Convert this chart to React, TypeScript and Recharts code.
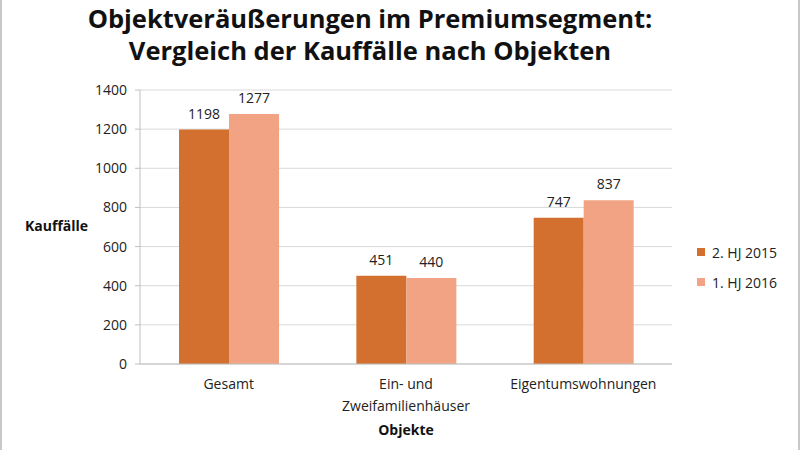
import { BarChart, Bar, XAxis, YAxis, CartesianGrid, LabelList } from 'recharts';

const categories = ['Gesamt', 'Ein- und Zweifamilienhäuser', 'Eigentumswohnungen'];
const hj2015 = [1198, 451, 747];
const hj2016 = [1277, 440, 837];
const yTicks = [0, 200, 400, 600, 800, 1000, 1200, 1400];

const data = categories.map((name, i) => ({ name, hj2015: hj2015[i], hj2016: hj2016[i] }));

const FONT = '"Open Sans", "Noto Sans", sans-serif';
const DARK = '#D4702F';
const LIGHT = '#F2A383';

const series = [
    { key: 'hj2015', label: '2. HJ 2015', color: DARK },
    { key: 'hj2016', label: '1. HJ 2016', color: LIGHT },
];

// split the long category after "und" so it wraps onto two lines
const CategoryTick = (props: any) => {
    const { x, y, payload } = props;
    const lines = payload.value === 'Ein- und Zweifamilienhäuser'
        ? ['Ein- und', 'Zweifamilienhäuser']
        : [payload.value];
    return (
        <text x={x} y={y + 17} textAnchor="middle" fill="#222" fontSize={14} fontFamily={FONT}>
            {lines.map((l, i) => (
                <tspan key={i} x={x} dy={i === 0 ? 0 : 22}>{l}</tspan>
            ))}
        </text>
    );
};

export default function App() {
    return (
        <div style={{ position: 'absolute', left: 0, top: 0, width: 800, height: 450, background: '#fff', fontFamily: FONT }}>
            <div style={{ position: 'absolute', left: 0, top: 0, width: 800, height: 450, borderLeft: '2px solid #c8c8c8', borderRight: '2px solid #c8c8c8', boxSizing: 'border-box' }} />
            <div style={{ position: 'absolute', left: 0, top: 2, width: 740, textAlign: 'center', fontWeight: 700, fontSize: 25.5, lineHeight: '32px', color: '#111' }}>
                Objektveräußerungen im Premiumsegment:<br />Vergleich der Kauffälle nach Objekten
            </div>
            <div style={{ position: 'absolute', left: 25, top: 216, fontWeight: 700, fontSize: 14, color: '#111' }}>Kauffälle</div>
            <div style={{ position: 'absolute', left: 140, top: 420, width: 532, textAlign: 'center', fontWeight: 700, fontSize: 14, color: '#111' }}>Objekte</div>
            <div style={{ position: 'absolute', left: 697, top: 237, fontSize: 14, color: '#222' }}>
                {series.map((s) => (
                    <div key={s.key} style={{ display: 'flex', alignItems: 'center', height: 30 }}>
                        <span style={{ width: 8, height: 8, background: s.color, marginRight: 7, display: 'inline-block' }} />
                        {s.label}
                    </div>
                ))}
            </div>
            <div style={{ position: 'absolute', left: 0, top: 0 }}>
                <BarChart width={800} height={450} data={data} margin={{ top: 90, right: 128, left: 90, bottom: 56 }} barCategoryGap="22%" barGap={0}>
                    <CartesianGrid vertical={false} stroke="#d9d9d9" />
                    <XAxis dataKey="name" tick={<CategoryTick />} tickLine={false} axisLine={{ stroke: '#bfbfbf' }} interval={0} height={30} />
                    <YAxis domain={[0, 1400]} ticks={yTicks} width={50} tickSize={5} tickMargin={8}
                        axisLine={{ stroke: '#bfbfbf' }} tickLine={{ stroke: '#bfbfbf' }}
                        tick={{ fill: '#222', fontSize: 14, fontFamily: FONT }} />
                    {series.map((s) => (
                        <Bar key={s.key} dataKey={s.key} fill={s.color} isAnimationActive={false}>
                            <LabelList dataKey={s.key} position="top" offset={11} fill="#222" fontSize={14} fontFamily={FONT} />
                        </Bar>
                    ))}
                </BarChart>
            </div>
        </div>
    );
}
